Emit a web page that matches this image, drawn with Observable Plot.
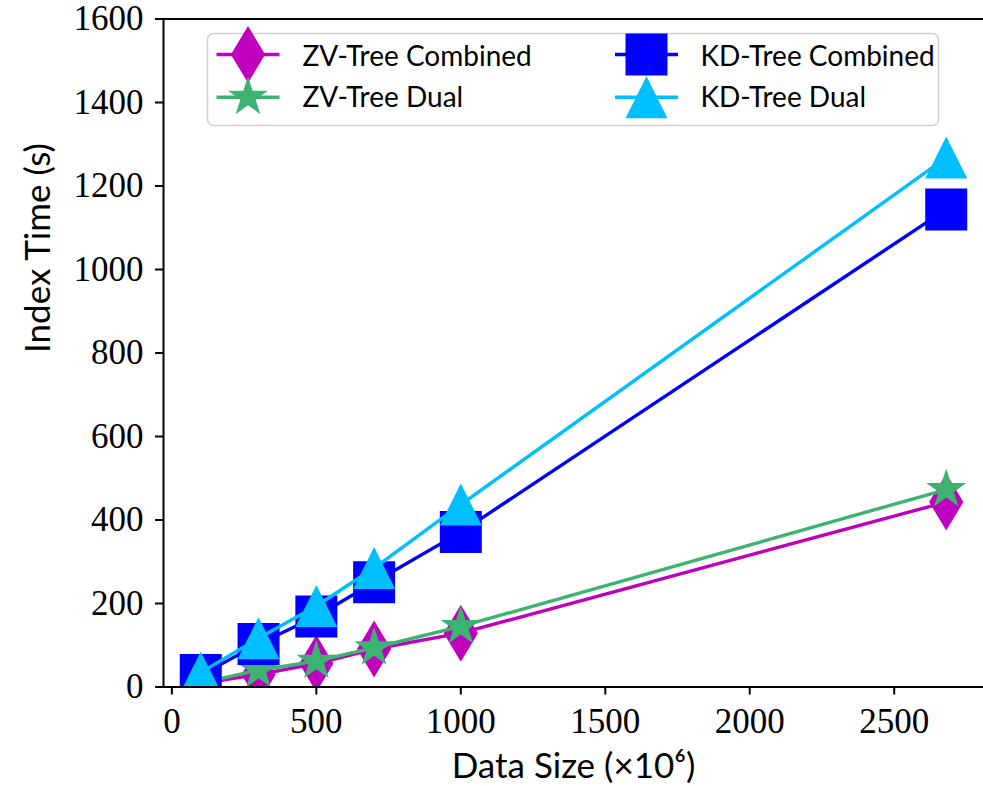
<!DOCTYPE html>
<html><head><meta charset="utf-8">
<script src="https://cdn.jsdelivr.net/npm/d3@7"></script>
<script src="https://cdn.jsdelivr.net/npm/@observablehq/plot@0.6"></script>
<style>
html,body{margin:0;padding:0;background:#fff;}
#chart svg{display:block;overflow:hidden;}
#chart [aria-label="x-axis tick"], #chart [aria-label="y-axis tick"]{stroke-width:2;stroke:#000;}
#chart [aria-label="x-axis tick label"], #chart [aria-label="y-axis tick label"]{font-family:"Liberation Serif",serif;font-size:35px;fill:#000;}
</style></head><body><div id="chart"></div>
<script>
// ---- data ----
const dataSize   = [100, 300, 500, 700, 1000, 2680];
const zvCombined = [8, 30, 56, 91, 129, 443];
const zvDual     = [10, 40, 62, 94, 145, 473];
const kdCombined = [29, 103, 169, 251, 371, 1144];
const kdDual     = [35, 117, 194, 285, 437, 1268];
const seriesNames  = ["ZV-Tree Combined", "ZV-Tree Dual", "KD-Tree Combined", "KD-Tree Dual"];
const seriesValues = [zvCombined, zvDual, kdCombined, kdDual];
const seriesColors = ["#bf00bf", "#3cb371", "#0000ff", "#00bfff"];
const xTicks = [0, 500, 1000, 1500, 2000, 2500];
const yTicks = [0, 200, 400, 600, 800, 1000, 1200, 1400, 1600];
const xLabel = "Data Size (×10⁶)";
const yLabel = "Index Time (s)";

// ---- marker symbols (matplotlib-like) ----
const rOf = size => Math.sqrt(size / Math.PI);
const symThinDiamond = {draw(c, s){const r=rOf(s); c.moveTo(0,-r); c.lineTo(0.6*r,0); c.lineTo(0,r); c.lineTo(-0.6*r,0); c.closePath();}};
const symStar = {draw(c, s){const R=rOf(s), ri=R*0.381966; for(let i=0;i<10;i++){const rr=i%2?ri:R; const a=-Math.PI/2+i*Math.PI/5; const x=rr*Math.cos(a), y=rr*Math.sin(a); i?c.lineTo(x,y):c.moveTo(x,y);} c.closePath();}};
const symSquare = {draw(c, s){const r=rOf(s); c.moveTo(-r,-r); c.lineTo(r,-r); c.lineTo(r,r); c.lineTo(-r,r); c.closePath();}};
const symTriangle = {draw(c, s){const r=rOf(s); c.moveTo(0,-r); c.lineTo(r,r); c.lineTo(-r,r); c.closePath();}};
const symLegendLine = {draw(c){c.moveTo(-31.5,-1.7); c.lineTo(31.5,-1.7); c.lineTo(31.5,1.7); c.lineTo(-31.5,1.7); c.closePath();}};
const seriesSymbols = [symThinDiamond, symStar, symSquare, symTriangle];
const seriesR = [28.5, 21, 21, 21];

const table = seriesNames.map((name, i) => dataSize.map((x, j) => ({series: name, x, y: seriesValues[i][j]})));

const marks = [];
// series
table.forEach((rows, i) => {
  marks.push(Plot.line(rows, {x: "x", y: "y", stroke: seriesColors[i], strokeWidth: 3.4, clip: true}));
  marks.push(Plot.dot(rows, {x: "x", y: "y", symbol: seriesSymbols[i], r: seriesR[i], fill: seriesColors[i], stroke: "none", clip: true}));
});
// spines
marks.push(Plot.frame({stroke: "#000", strokeWidth: 2, insetRight: -4}));
// axes
marks.push(Plot.axisX(xTicks, {tickSize: 8, tickPadding: 13, fontSize: 35, fontFamily: "Liberation Serif", tickFormat: d => String(d), label: null}));
marks.push(Plot.axisY(yTicks, {tickSize: 8, tickPadding: 12, fontSize: 35, fontFamily: "Liberation Serif", tickFormat: d => String(d), label: null}));
// axis titles
marks.push(Plot.text([xLabel], {text: d => d, frameAnchor: "bottom", dy: 80, lineAnchor: "middle", fontSize: 35, fontFamily: "Lato", fill: "#000"}));
marks.push(Plot.text([yLabel], {text: d => d, frameAnchor: "left", dx: -124.5, rotate: -90, lineAnchor: "middle", fontSize: 35, fontFamily: "Lato", fill: "#000"}));
// legend
marks.push(Plot.frame({insetLeft: 44, insetTop: 14.5, insetRight: 45, insetBottom: 561.5, rx: 6, stroke: "#d0d0d0", strokeWidth: 1.5, fill: "white", fillOpacity: 0.85}));
const legMarkerDx = [84.5, 483], legTextDx = [139, 537], legRowDy = [35.5, 78.2], legTextDy = [38, 79];
seriesNames.forEach((name, i) => {
  const col = i < 2 ? 0 : 1, row = i % 2;
  const dx = legMarkerDx[col], dy = legRowDy[row];
  marks.push(Plot.dot([name], {frameAnchor: "top-left", dx, dy, symbol: symLegendLine, r: 1, fill: seriesColors[i], stroke: "none"}));
  marks.push(Plot.dot([name], {frameAnchor: "top-left", dx, dy, symbol: seriesSymbols[i], r: seriesR[i], fill: seriesColors[i], stroke: "none"}));
  marks.push(Plot.text([name], {text: d => d, frameAnchor: "top-left", dx: legTextDx[col], dy: legTextDy[row], textAnchor: "start", lineAnchor: "middle", fontSize: 28, fontFamily: "Lato", fill: "#000"}));
});

const chart = Plot.plot({
  width: 983, height: 786,
  marginLeft: 163, marginRight: 0, marginTop: 18.5, marginBottom: 99.5,
  x: {domain: [-29, 2809]},
  y: {domain: [0, 1600]},
  style: {fontFamily: "Lato", background: "#fff", overflow: "hidden"},
  marks
});
document.getElementById("chart").append(chart);
</script></body></html>
